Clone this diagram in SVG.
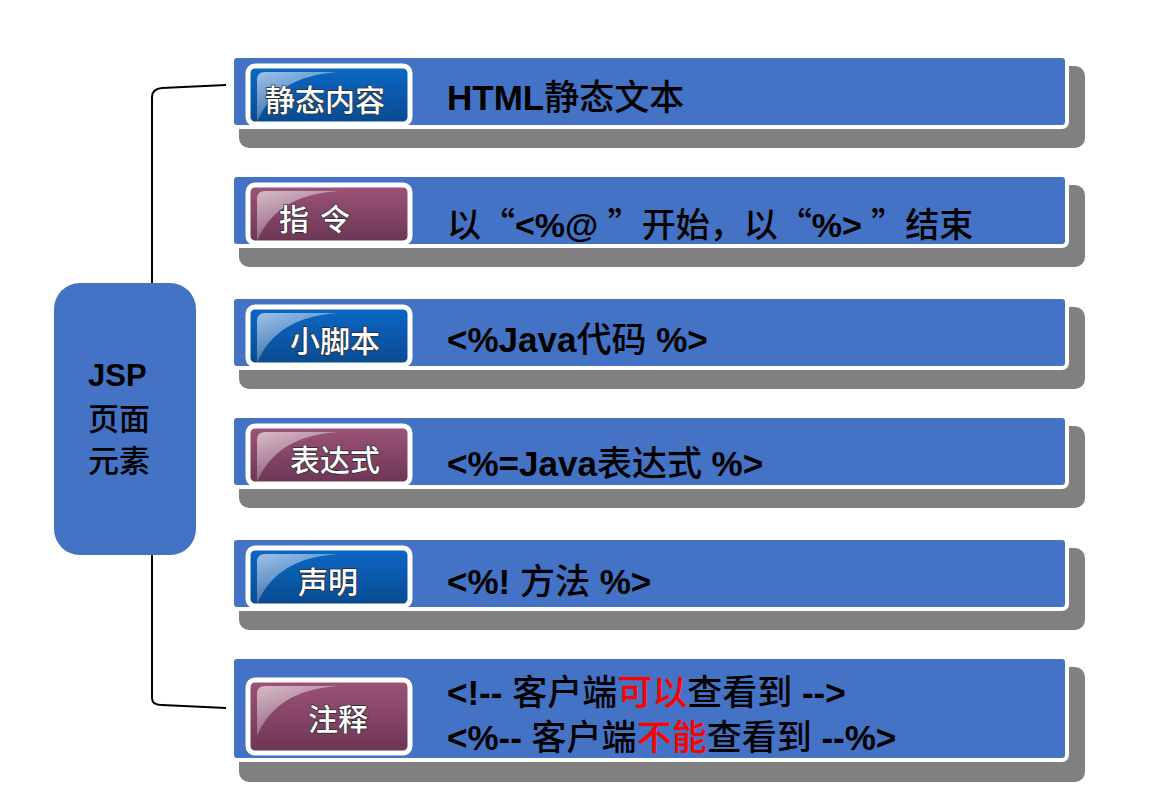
<svg xmlns="http://www.w3.org/2000/svg" width="1150" height="806" viewBox="0 0 1150 806">
<defs>
<linearGradient id="gBlue" x1="0" y1="0" x2="0" y2="1">
<stop offset="0" stop-color="#0B68C6"/>
<stop offset="1" stop-color="#0A4A8F"/>
</linearGradient>
<linearGradient id="gPurple" x1="0" y1="0" x2="0" y2="1">
<stop offset="0" stop-color="#9D5479"/>
<stop offset="1" stop-color="#6C3554"/>
</linearGradient>
<linearGradient id="gGloss" x1="0" y1="0" x2="0.6" y2="1">
<stop offset="0" stop-color="#ffffff" stop-opacity="0.6"/>
<stop offset="1" stop-color="#ffffff" stop-opacity="0.12"/>
</linearGradient>
<path id="gloss" d="M257,122 L257,80 Q257,72 265,72 L338,72 Q276,76 257,122 Z"/>
</defs>
<style>
.shadow{fill:#808080}
.bar{fill:#4472C4;stroke:#ffffff;stroke-width:4}
.lbl{stroke:#ffffff;stroke-width:5}
.lt{font-family:"Noto Sans CJK SC","Liberation Sans",sans-serif;font-size:30px;font-weight:500;fill:#ffffff;stroke:#2a2a2a;stroke-width:1.4;paint-order:stroke}
.dt{font-family:"Liberation Sans","Noto Sans CJK SC",sans-serif;font-size:35px;font-weight:bold;fill:#000000}
.dt2{font-size:34px}
.cjk{font-family:"Noto Sans CJK SC",sans-serif;font-weight:500}
.red{fill:#FF0000}
.line{fill:none;stroke:#000000;stroke-width:2}
.main{fill:#4472C4}
.mt{font-family:"Liberation Sans","Noto Sans CJK SC",sans-serif;font-size:31px;font-weight:bold;fill:#000000}
</style>

<g id="connectors">
<path class="line" d="M226,85 L162,88 Q152,89 152,97 L152,283"/>
<path class="line" d="M152,555 L152,698 Q152,705 162,705 L226,708"/>
</g>

<g id="node-root">
<rect class="main" x="54" y="283" width="142" height="272" rx="26"/>
<text class="mt" x="88" y="386">JSP</text>
<text class="mt" x="88" y="430"><tspan class="cjk">页面</tspan></text>
<text class="mt" x="88" y="472"><tspan class="cjk">元素</tspan></text>
</g>

<g id="row-static">
<rect class="shadow" x="239" y="66" width="846" height="82" rx="10"/>
<rect class="bar" x="232" y="56" width="835" height="71" rx="5"/>
<rect class="lbl" x="248" y="66" width="162" height="58" rx="7" fill="url(#gBlue)"/>
<use href="#gloss" fill="url(#gGloss)"/>
<text class="lt" x="265" y="111">静态内容</text>
<text class="dt" x="447" y="110">HTML<tspan class="cjk">静态文本</tspan></text>
</g>

<g id="row-directive">
<rect class="shadow" x="239" y="185" width="846" height="82" rx="10"/>
<rect class="bar" x="232" y="175" width="835" height="71" rx="5"/>
<rect class="lbl" x="248" y="185" width="162" height="58" rx="7" fill="url(#gPurple)"/>
<use href="#gloss" y="119" fill="url(#gGloss)"/>
<text class="lt" x="279" y="230">指 <tspan x="320">令</tspan></text>
<text class="dt dt2" x="447" y="237"><tspan class="cjk">以“</tspan>&lt;%@ <tspan class="cjk">”开始，以“</tspan>%&gt; <tspan class="cjk">”结束</tspan></text>
</g>

<g id="row-scriptlet">
<rect class="shadow" x="239" y="307" width="846" height="82" rx="10"/>
<rect class="bar" x="232" y="297" width="835" height="71" rx="5"/>
<rect class="lbl" x="248" y="307" width="162" height="58" rx="7" fill="url(#gBlue)"/>
<use href="#gloss" y="241" fill="url(#gGloss)"/>
<text class="lt" x="290" y="352">小脚本</text>
<text class="dt" x="447" y="352">&lt;%Java<tspan class="cjk">代码</tspan> %&gt;</text>
</g>

<g id="row-expression">
<rect class="shadow" x="239" y="426" width="846" height="82" rx="10"/>
<rect class="bar" x="232" y="416" width="835" height="71" rx="5"/>
<rect class="lbl" x="248" y="426" width="162" height="58" rx="7" fill="url(#gPurple)"/>
<use href="#gloss" y="360" fill="url(#gGloss)"/>
<text class="lt" x="290" y="471">表达式</text>
<text class="dt" x="447" y="476">&lt;%=Java<tspan class="cjk">表达式</tspan> %&gt;</text>
</g>

<g id="row-declaration">
<rect class="shadow" x="239" y="548" width="846" height="82" rx="10"/>
<rect class="bar" x="232" y="538" width="835" height="71" rx="5"/>
<rect class="lbl" x="248" y="548" width="162" height="58" rx="7" fill="url(#gBlue)"/>
<use href="#gloss" y="482" fill="url(#gGloss)"/>
<text class="lt" x="298" y="593">声明</text>
<text class="dt" x="447" y="594">&lt;%! <tspan class="cjk">方法</tspan> %&gt;</text>
</g>

<g id="row-comment">
<rect class="shadow" x="239" y="667" width="846" height="115" rx="10"/>
<rect class="bar" x="232" y="657" width="835" height="103" rx="5"/>
<rect class="lbl" x="248" y="680" width="162" height="73" rx="7" fill="url(#gPurple)"/>
<use href="#gloss" y="614" fill="url(#gGloss)"/>
<text class="lt" x="308" y="730">注释</text>
<text class="dt" x="447" y="705">&lt;!-- <tspan class="cjk">客户端</tspan><tspan class="cjk red">可以</tspan><tspan class="cjk">查看到</tspan> --&gt;</text>
<text class="dt" x="447" y="750">&lt;%-- <tspan class="cjk">客户端</tspan><tspan class="cjk red">不能</tspan><tspan class="cjk">查看到</tspan> --%&gt;</text>
</g>
</svg>
